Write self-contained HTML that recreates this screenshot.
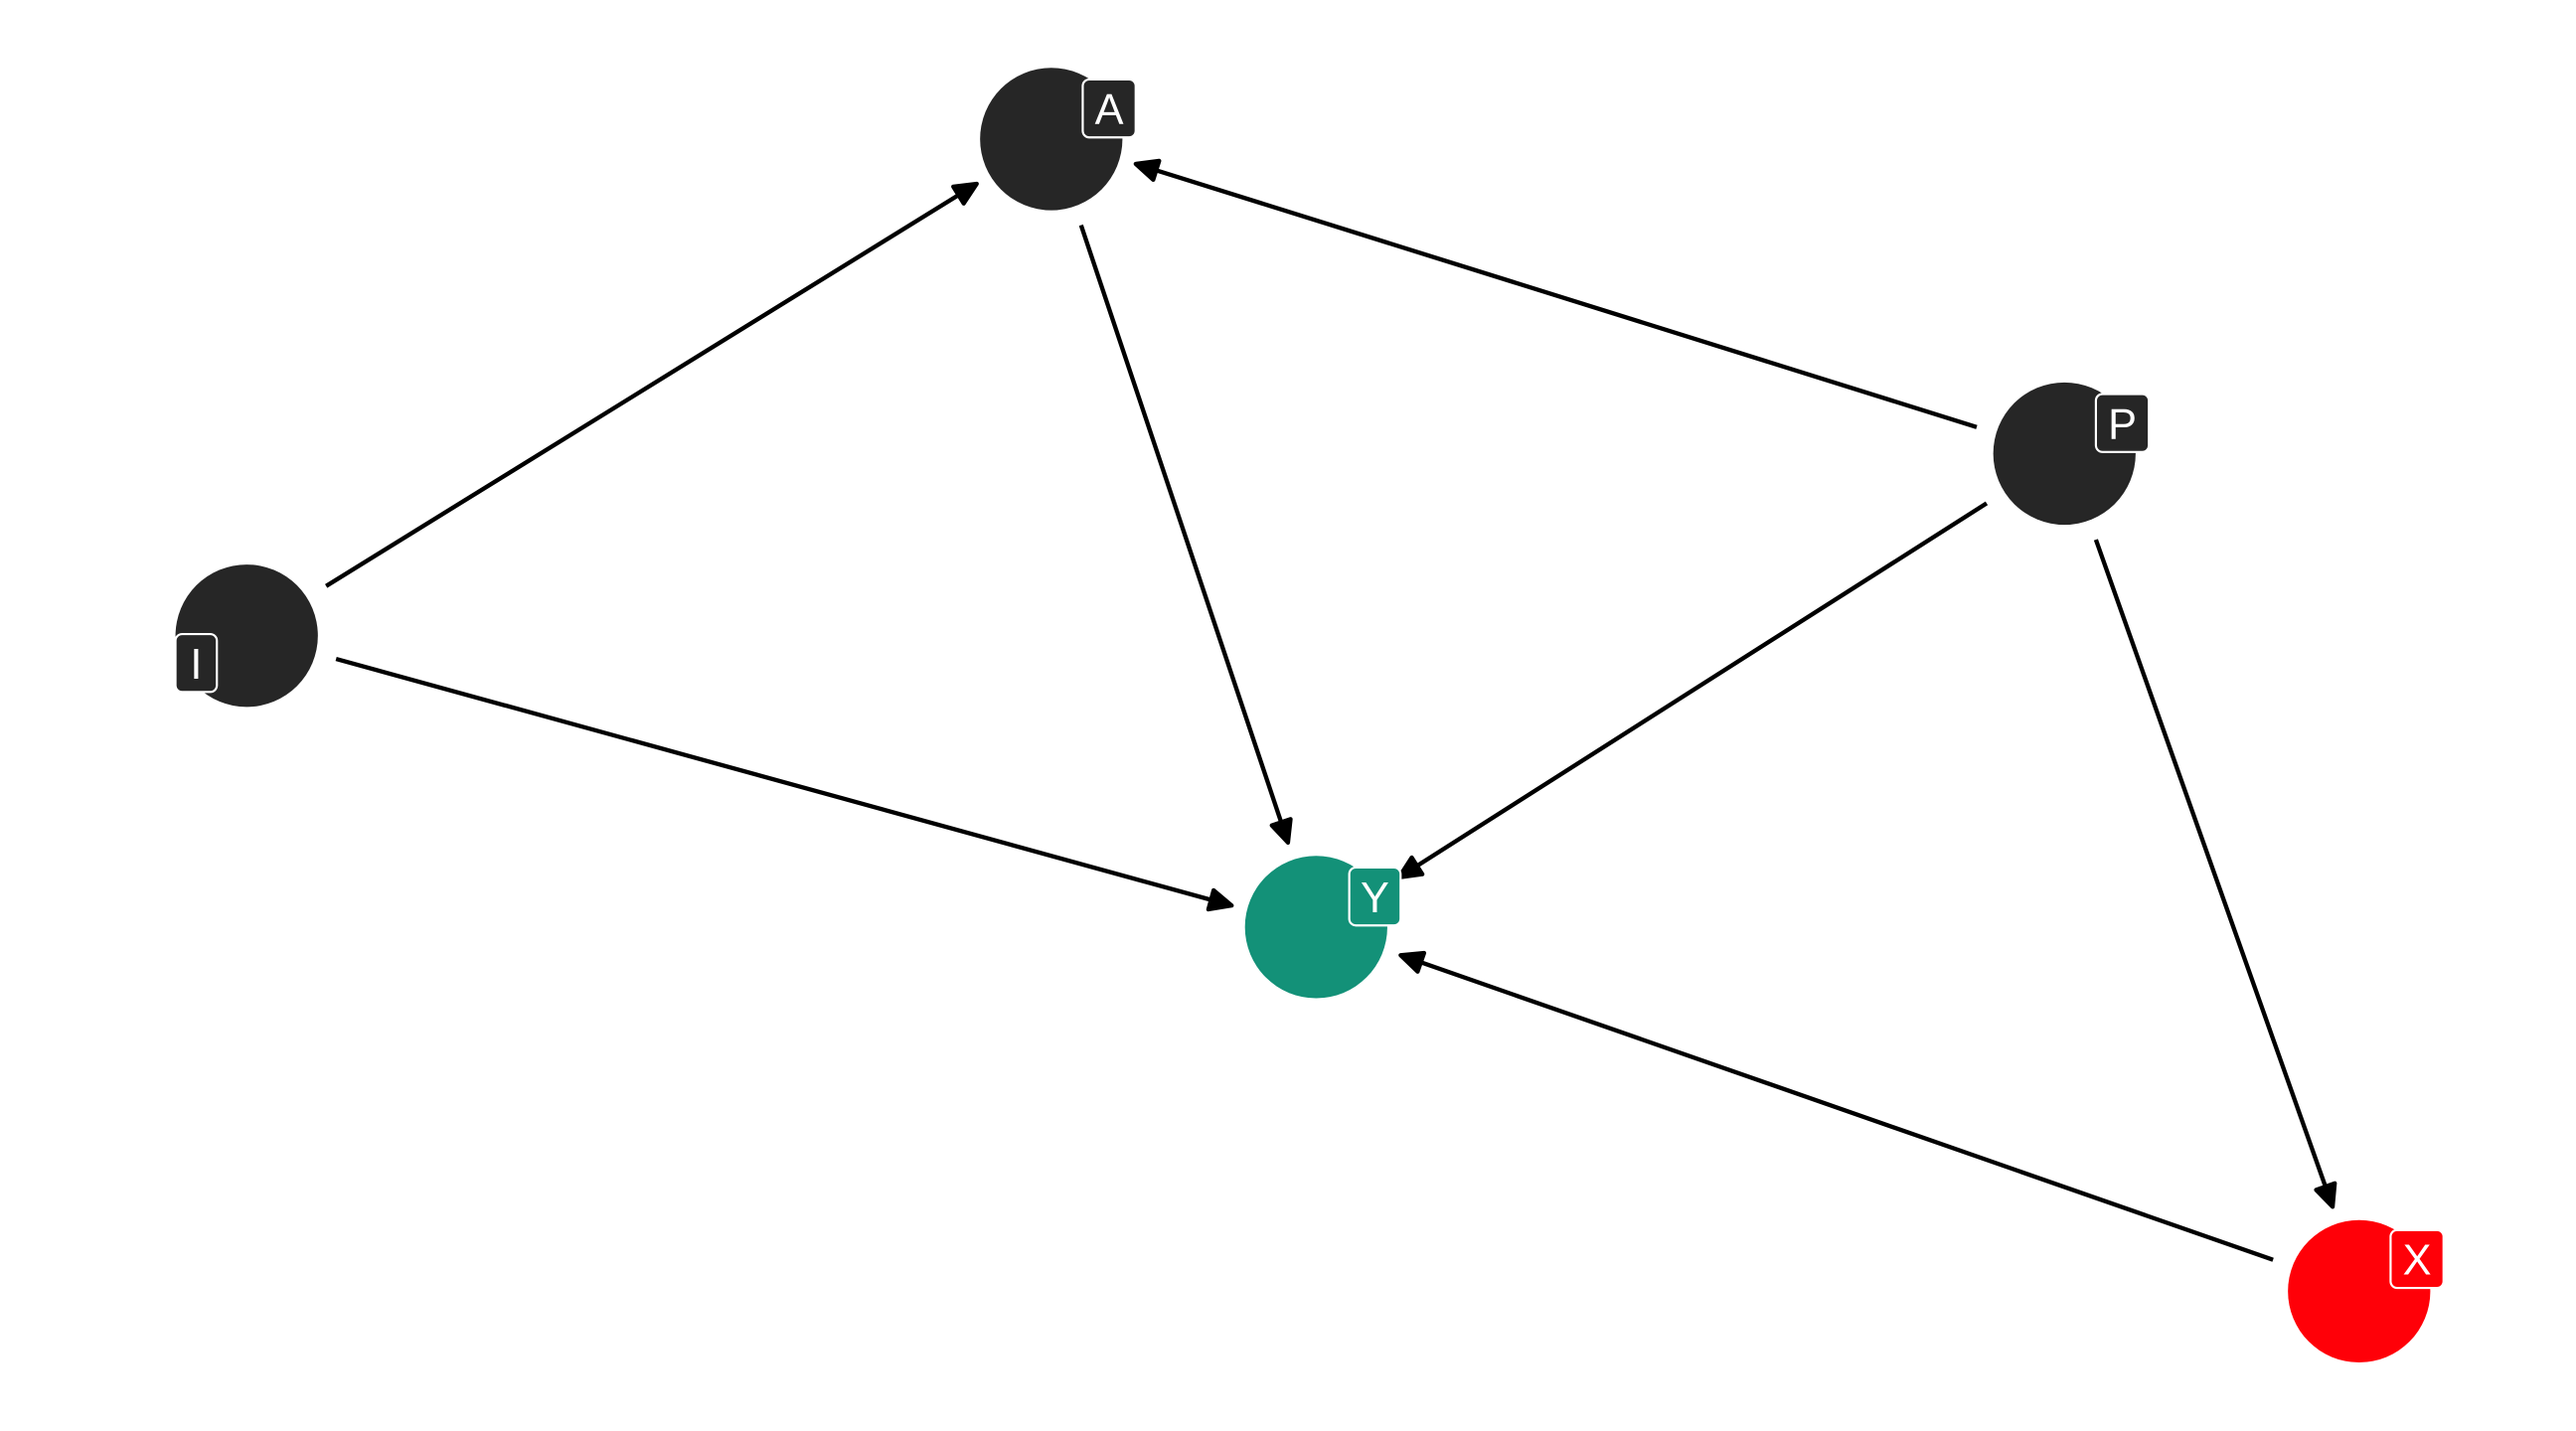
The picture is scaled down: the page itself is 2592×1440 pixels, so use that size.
<!DOCTYPE html>
<html><head><meta charset="utf-8"><style>
html,body{margin:0;padding:0;background:#fff;}
svg{display:block;}
text{font-family:"Liberation Sans","DejaVu Sans",sans-serif;fill:#fff;font-size:26px;text-anchor:middle;}
</style></head><body>
<svg width="2592" height="1440" viewBox="0 0 1556 864.4" preserveAspectRatio="none" xmlns="http://www.w3.org/2000/svg">
<defs>
<marker id="ah" markerUnits="userSpaceOnUse" markerWidth="24" markerHeight="20" refX="15" refY="8" orient="auto">
<path d="M2,2 L15,8 L2,14 Z" fill="#000" stroke="#000" stroke-width="2.5" stroke-linejoin="round"/>
</marker>
</defs>
<g stroke="#000" stroke-width="2.6" fill="none" marker-end="url(#ah)">
<line x1="197" y1="354" x2="590" y2="111"/>
<line x1="653" y1="136" x2="778" y2="509"/>
<line x1="1194" y1="258" x2="686" y2="99"/>
<line x1="1200" y1="304" x2="845" y2="530"/>
<line x1="203" y1="398" x2="744" y2="547"/>
<line x1="1266" y1="326" x2="1409" y2="729"/>
<line x1="1373" y1="761" x2="846" y2="577"/>
</g>
<circle cx="635" cy="84" r="43" fill="#262626"/>
<circle cx="1247" cy="274" r="43" fill="#262626"/>
<circle cx="149" cy="384" r="43" fill="#262626"/>
<circle cx="795" cy="560" r="43" fill="#139178"/>
<circle cx="1425" cy="780" r="43" fill="#ff0008"/>
<g stroke="#fff" stroke-width="1.3">
<rect x="654" y="48" width="32" height="35" rx="4" fill="#262626"/>
<rect x="1266" y="238" width="32" height="35" rx="4" fill="#262626"/>
<rect x="106" y="383" width="25" height="35" rx="4" fill="#262626"/>
<rect x="815" y="524" width="31" height="35" rx="4" fill="#139178"/>
<rect x="1444" y="743" width="32" height="35" rx="4" fill="#ff0008"/>
</g>
<text x="670" y="75">A</text>
<text x="1282" y="265">P</text>
<text x="118.5" y="410">I</text>
<text x="830.5" y="551">Y</text>
<text x="1460" y="770">X</text>
</svg>
</body></html>
